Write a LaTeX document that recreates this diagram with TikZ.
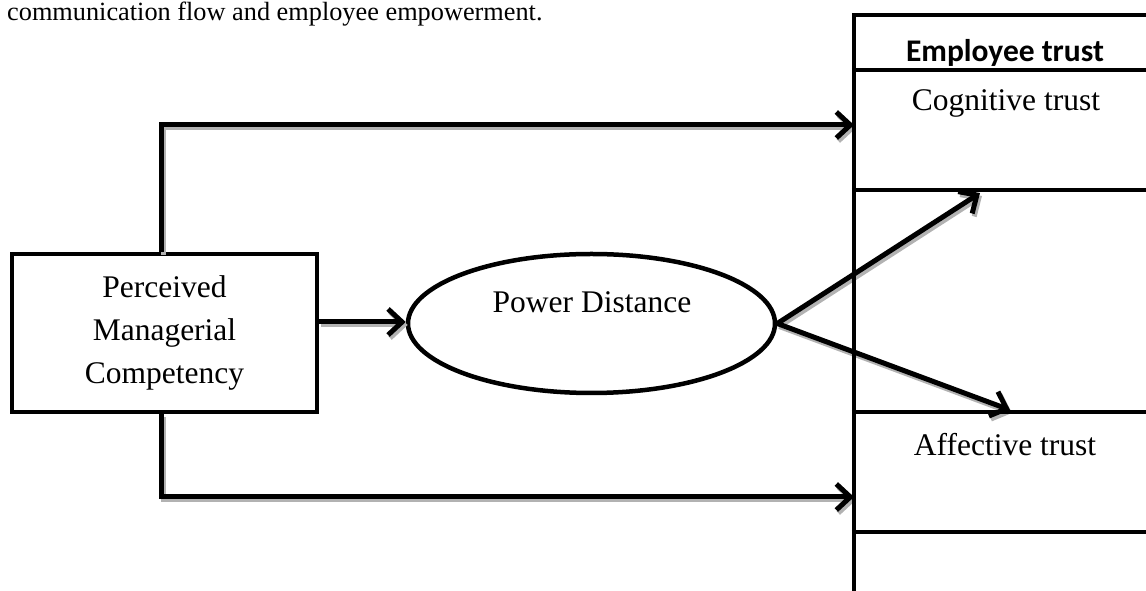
\documentclass[tikz,border=0pt]{standalone}
\usepackage{fontspec}
\setmainfont{Liberation Serif}
\newfontfamily\hdfont{Carlito}
\usetikzlibrary{arrows.meta,shapes.geometric}
\tikzset{
  boxline/.style={line width=4.5pt},
  txt/.style={font=\fontsize{31.5}{43}\selectfont, inner sep=0pt},
  conn/.style={line width=5pt, line join=miter,
    -{Straight Barb[length=14pt,width=26pt,line width=5pt]}},
  shade/.style={conn, draw=gray!60, transform canvas={shift={(2pt,-3pt)}}},
}
\begin{document}
\begin{tikzpicture}[x=1pt,y=1pt]
\useasboundingbox (0,0) rectangle (1146,591);
% caption line
\node[font=\fontsize{26.3}{30}\selectfont, inner sep=0pt, anchor=base west] (cap) at (7,570) {communication flow and employee empowerment.};
% left box
\node[draw, boxline, rectangle, minimum width=305pt, minimum height=158pt, align=center, txt] (pmc) at (164.5,258) {Perceived\\Managerial\\Competency};
% ellipse
\node[draw, boxline, ellipse, minimum width=367pt, minimum height=139pt, inner sep=0pt] (pd) at (591.5,267.5) {};
\node[txt, anchor=base] (pdt) at (592,278) {Power Distance};
% targets
\coordinate (t1) at (854,466);
\coordinate (t2) at (854,94);
\coordinate (t3) at (980,398);
\coordinate (t4) at (1010,181);
\coordinate (s1) at ([xshift=-3.5pt]pmc.north);
\coordinate (s2) at ([xshift=-3.5pt]pmc.south);
\coordinate (s3) at (pmc.east |- 0,269);
\coordinate (e3) at (pd.west |- 0,269);
% connector shadows
\draw[shade] (s1) |- (t1);
\draw[shade] (s2) |- (t2);
\draw[shade] (s3) -- (e3);
\draw[shade] (pd.east) -- (t3);
\draw[shade] (pd.east) -- (t4);
% right table
\coordinate (rt) at (854,576);
\coordinate (rb) at (854,0);
\draw[boxline] (rt) -- (rb);
\foreach \y/\n in {576/h0,521/h1,401/h2,179/h3,59/h4}{
  \coordinate (\n) at (854,\y);
  \draw[boxline] ([xshift=-2.25pt]\n) -- (1146,\y);
}
\node[txt, anchor=base, font=\hdfont\bfseries\fontsize{31.5}{38}\selectfont] (et) at (1005,529) {Employee trust};
\node[txt, anchor=base] (cog) at (1006,480) {Cognitive trust};
\node[txt, anchor=base] (aff) at (1005,135) {Affective trust};
% connectors
\draw[conn] (s1) |- (t1);
\draw[conn] (s2) |- (t2);
\draw[conn] (s3) -- (e3);
\draw[conn] (pd.east) -- (t3);
\draw[conn] (pd.east) -- (t4);
\end{tikzpicture}
\end{document}
